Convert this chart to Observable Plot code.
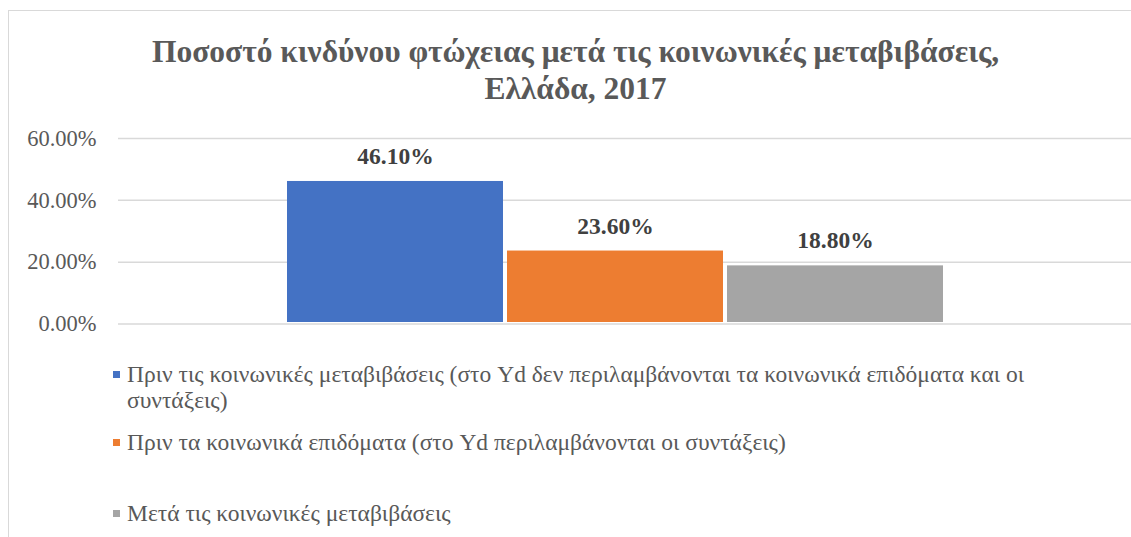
<!DOCTYPE html>
<html>
<head>
<meta charset="utf-8">
<script src="https://cdn.jsdelivr.net/npm/d3@7"></script>
<script src="https://cdn.jsdelivr.net/npm/@observablehq/plot@0.6"></script>
<style>
  html, body { margin: 0; padding: 0; background: #fff; }
  #wrap { position: relative; width: 1131px; height: 537px; overflow: hidden; font-family: "Liberation Serif", "Times New Roman", serif; }
  #frame { position: absolute; left: 8px; top: 10px; width: 1140px; height: 560px; border: 1.5px solid #d9d9d9; box-sizing: border-box; }
  #title { position: absolute; left: 0; top: 33px; width: 1151px; text-align: center; font-size: 31.5px; font-weight: bold; color: #595959; line-height: 37px; }
  #chart { position: absolute; left: 0; top: 120px; }
  .leg { position: absolute; left: 113px; font-size: 23.5px; color: #595959; line-height: 26px; width: 950px; }
  .leg .sw { position: absolute; left: 0; top: 10px; width: 7px; height: 7px; }
  .leg .tx { margin-left: 14px; display: block; }
</style>
</head>
<body>
<div id="wrap">
  <div id="frame"></div>
  <div id="title"></div>
  <div id="chart"></div>
  <div id="legend"></div>
</div>
<script>
const titleLines = ["Ποσοστό κινδύνου φτώχειας μετά τις κοινωνικές μεταβιβάσεις,", "Ελλάδα, 2017"];
const series = [
  "Πριν τις κοινωνικές μεταβιβάσεις (στο Yd δεν περιλαμβάνονται τα κοινωνικά επιδόματα και οι συντάξεις)",
  "Πριν τα κοινωνικά επιδόματα (στο Yd περιλαμβάνονται οι συντάξεις)",
  "Μετά τις κοινωνικές μεταβιβάσεις"
];
const values = [46.1, 23.6, 18.8];
const colors = ["#4472C4", "#ED7D31", "#A5A5A5"];
const yTicks = [0, 20, 40, 60];

const data = series.map((s, i) => ({series: s, value: values[i]}));

document.getElementById("title").innerHTML = titleLines.join("<br>");

const chart = Plot.plot({
  width: 1131,
  height: 220,
  marginLeft: 118,
  marginRight: 0,
  marginTop: 18,
  marginBottom: 16.5,
  style: {fontFamily: "'Liberation Serif', 'Times New Roman', serif", background: "transparent", overflow: "visible"},
  x: {type: "band", domain: series, range: [286, 945], paddingInner: 0.018, paddingOuter: 0, axis: null},
  y: {domain: [0, 60], ticks: yTicks, label: null},
  color: {domain: series, range: colors},
  marks: [
    Plot.ruleY(yTicks, {stroke: "#d9d9d9", strokeWidth: 1.5}),
    Plot.barY(data, {x: "series", y: "value", fill: "series", insetBottom: 1.5}),
    Plot.text(data, {x: "series", y: "value", text: d => d.value.toFixed(2) + "%", dy: -25, fontSize: 23.5, fontWeight: "bold", fill: "#404040"}),
    Plot.axisY({ticks: yTicks, tickSize: 0, tickPadding: 22, fontSize: 22.5, fill: "#595959", label: null, tickFormat: d => d.toFixed(2) + "%"})
  ]
});
document.getElementById("chart").appendChild(chart);

const legTops = [361, 429, 500];
const legend = document.getElementById("legend");
series.forEach((s, i) => {
  const d = document.createElement("div");
  d.className = "leg";
  d.style.top = legTops[i] + "px";
  d.innerHTML = `<span class="sw" style="background:${colors[i]}"></span><span class="tx"></span>`;
  d.querySelector(".tx").textContent = s;
  legend.appendChild(d);
});
</script>
</body>
</html>
